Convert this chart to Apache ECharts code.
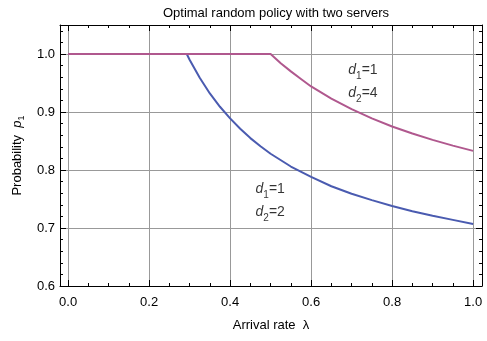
<!DOCTYPE html>
<html>
<head>
<meta charset="utf-8">
<script src="https://cdn.jsdelivr.net/npm/echarts@6/dist/echarts.min.js"></script>
<style>
html,body{margin:0;padding:0;background:#fff;}
#c{width:487px;height:341px;}
</style>
</head>
<body>
<div id="c"></div>
<script>
// ---- data ----
const titleText = 'Optimal random policy with two servers';
const blueLambda = [0.0, 0.293, 0.30, 0.325, 0.35, 0.375, 0.40, 0.425, 0.45, 0.475, 0.50, 0.55, 0.60, 0.65, 0.70, 0.75, 0.80, 0.85, 0.90, 0.95, 1.00];
const blueP      = [1.0, 1.000, 0.990, 0.959, 0.932, 0.909, 0.889, 0.871, 0.855, 0.841, 0.828, 0.806, 0.788, 0.772, 0.759, 0.748, 0.738, 0.729, 0.721, 0.714, 0.707];
const purpleLambda = [0.0, 0.50, 0.525, 0.55, 0.575, 0.60, 0.65, 0.70, 0.75, 0.80, 0.85, 0.90, 0.95, 1.00];
const purpleP      = [1.0, 1.00, 0.984, 0.970, 0.957, 0.944, 0.923, 0.905, 0.889, 0.875, 0.863, 0.852, 0.842, 0.833];
const xMajorTicks = [0, 0.2, 0.4, 0.6, 0.8, 1.0];
const xMinorTicks = [0.05,0.1,0.15,0.25,0.3,0.35,0.45,0.5,0.55,0.65,0.7,0.75,0.85,0.9,0.95];
const yMajorTicks = [0.6, 0.7, 0.8, 0.9, 1.0];
const yMinorTicks = [0.62,0.64,0.66,0.68,0.72,0.74,0.76,0.78,0.82,0.84,0.86,0.88,0.92,0.94,0.96,0.98,1.02,1.04];
const label24 = { lambda: 0.728, p: 0.953, d1: '1', d2: '4' };
const label12 = { lambda: 0.499, p: 0.748, d1: '1', d2: '2' };

const FONT = 'Liberation Sans, Arial, Helvetica, sans-serif';
const X_MIN = -0.02, X_MAX = 1.022, Y_MIN = 0.6, Y_MAX = 1.05;

function zip(a, b) { return a.map((v, i) => [v, b[i]]); }

function xAxisDef(pos, ticks, len, labels, splitLine, axisLine) {
  return {
    type: 'value', position: pos, min: X_MIN, max: X_MAX,
    axisLine: { show: axisLine, onZero: false, lineStyle: { color: '#000', width: 1 } },
    axisTick: { show: true, inside: true, length: len, customValues: ticks, lineStyle: { color: '#000', width: 1 } },
    axisLabel: labels ? { show: true, customValues: ticks, formatter: v => v.toFixed(1), color: '#000', fontFamily: FONT, fontSize: 13, margin: 10 } : { show: false },
    splitLine: { show: splitLine, lineStyle: { color: '#999', width: 1 } },
    minorTick: { show: false }
  };
}
function yAxisDef(pos, ticks, len, labels, splitLine, axisLine) {
  return {
    type: 'value', position: pos, min: Y_MIN, max: Y_MAX,
    axisLine: { show: axisLine, onZero: false, lineStyle: { color: '#000', width: 1 } },
    axisTick: { show: true, inside: true, length: len, customValues: ticks, lineStyle: { color: '#000', width: 1 } },
    axisLabel: labels ? { show: true, customValues: ticks, formatter: v => v.toFixed(1), color: '#000', fontFamily: FONT, fontSize: 13, margin: 5 } : { show: false },
    splitLine: { show: splitLine, lineStyle: { color: '#999', width: 1 } },
    minorTick: { show: false }
  };
}

const xAxes = [
  Object.assign(xAxisDef('bottom', xMajorTicks, 6, true, true, true), {
    name: 'Arrival rate  λ', nameLocation: 'middle', nameGap: 33,
    nameTextStyle: { color: '#000', fontFamily: FONT, fontSize: 13 }
  }),
  xAxisDef('bottom', xMinorTicks, 3, false, false, false),
  xAxisDef('top', xMajorTicks, 6, false, false, true),
  xAxisDef('top', xMinorTicks, 3, false, false, false)
];
const yAxes = [
  Object.assign(yAxisDef('left', yMajorTicks, 6, true, true, true), {
    name: 'Probability  {i|p}{s|1}', nameLocation: 'middle', nameGap: 32, nameRotate: 90,
    nameTextStyle: {
      color: '#000', fontFamily: FONT, fontSize: 13,
      rich: {
        i: { fontStyle: 'italic', fontFamily: FONT, fontSize: 13, color: '#000', lineHeight: 18 },
        s: { fontFamily: FONT, fontSize: 9, color: '#000', lineHeight: 10, verticalAlign: 'bottom' }
      }
    }
  }),
  yAxisDef('left', yMinorTicks, 3, false, false, false),
  yAxisDef('right', yMajorTicks, 6, false, false, true),
  yAxisDef('right', yMinorTicks, 3, false, false, false)
];

const richLbl = {
  i: { fontStyle: 'italic', fontFamily: FONT, fontSize: 14, color: '#000', lineHeight: 23 },
  s: { fontFamily: FONT, fontSize: 10, color: '#000', lineHeight: 14, verticalAlign: 'bottom' },
  n: { fontFamily: FONT, fontSize: 14, color: '#000', lineHeight: 23 }
};
function annot(l) {
  return {
    value: [l.lambda, l.p],
    label: {
      show: true, position: 'inside', align: 'center', verticalAlign: 'middle',
      formatter: '{i|d}{s|1}{n|=' + l.d1 + '}\n{i|d}{s|2}{n|=' + l.d2 + '}',
      rich: richLbl
    }
  };
}

const option = {
  animation: false,
  backgroundColor: '#fff',
  title: {
    text: titleText, left: 271, top: 2, textAlign: 'center',
    textStyle: { color: '#000', fontFamily: FONT, fontSize: 13, fontWeight: 'normal' }
  },
  grid: { left: 60, top: 25, right: 5, bottom: 55, containLabel: false },
  xAxis: xAxes,
  yAxis: yAxes,
  series: [
    { type: 'line', data: zip(blueLambda, blueP), showSymbol: false, symbol: 'none',
      lineStyle: { color: '#4a5bb0', width: 2 }, itemStyle: { color: '#4a5bb0' }, z: 3 },
    { type: 'line', data: zip(purpleLambda, purpleP), showSymbol: false, symbol: 'none',
      lineStyle: { color: '#b0588e', width: 2 }, itemStyle: { color: '#b0588e' }, z: 4 },
    { type: 'scatter', symbolSize: 0, data: [annot(label24), annot(label12)], z: 5, silent: true }
  ]
};

const chart = echarts.init(document.getElementById('c'), null, { renderer: 'canvas' });
chart.setOption(option);
</script>
</body>
</html>
